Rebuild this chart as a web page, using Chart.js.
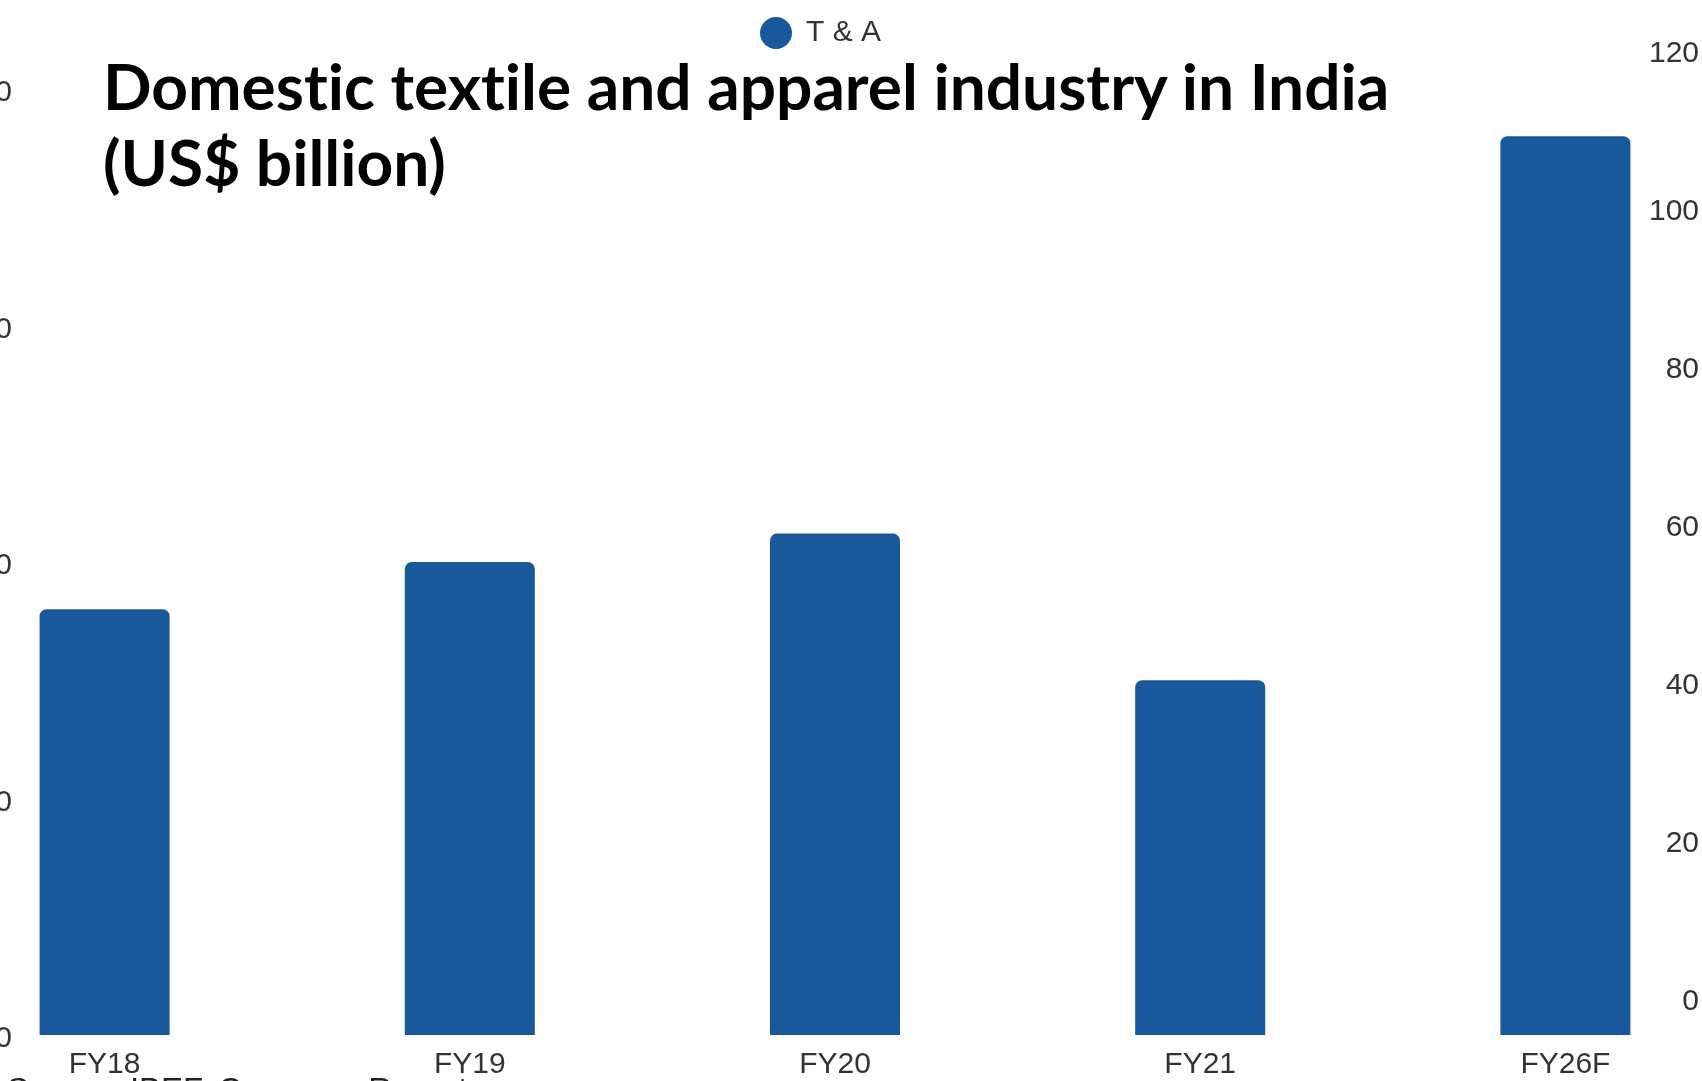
<!DOCTYPE html>
<html>
<head>
<meta charset="utf-8">
<script src="https://cdn.jsdelivr.net/npm/chart.js"></script>
<style>
html, body { margin: 0; padding: 0; background: #fff; overflow: hidden; width: 1702px; height: 1081px; position: relative; }
#wrap { position: absolute; left: -200px; top: 0; width: 2100px; height: 1081px; }
#title { position: absolute; left: 103px; top: 48px; font-family: Lato, sans-serif; font-weight: bold; font-size: 64px; line-height: 76px; color: #000; font-variant-ligatures: none; }
#source { position: absolute; left: 7px; top: 1073px; font-family: "Liberation Sans", Arial, sans-serif; font-size: 33px; line-height: 33px; color: #222; white-space: nowrap; }
</style>
</head>
<body>
<div id="wrap"><canvas id="myChart"></canvas></div>
<div id="title">Domestic textile and apparel industry in India<br>(US$ billion)</div>
<div id="source">Source: IBEF, Company Reports</div>
<script>
const categories = ["FY18", "FY19", "FY20", "FY21", "FY26F"];
const values = [90, 100, 106, 75, 190];
const leftTicks = [0, 50, 100, 150, 200];
const rightTicks = [0, 20, 40, 60, 80, 100, 120];
const seriesName = "T & A";
const barColor = "#19599b";

const tickFont = { family: "'Liberation Sans', Arial, sans-serif", size: 30 };

// legend takes little room in the layout, then gets a box big enough to draw in
const legendHeight = {
    id: "legendHeight",
    beforeInit(chart) {
        const fit = chart.legend.fit;
        chart.legend.fit = function () {
            fit.call(this);
            this.height = 40;
        };
    },
    afterLayout(chart) {
        const lg = chart.legend;
        lg.top = 8;
        lg.bottom = 72;
        lg.height = lg.bottom - lg.top;
        lg.left -= 14;
        lg.right -= 14;
    }
};

// side axes sit on top of the bars and take no room
function flatAxis(axis) {
    axis.width = 0;
    axis.paddingTop = 0;
    axis.paddingBottom = 0;
}

new Chart("myChart", {
    type: "bar",
    data: {
        labels: categories,
        datasets: [{
            label: seriesName,
            data: values,
            backgroundColor: barColor,
            borderRadius: 7,
            categoryPercentage: 0.356,
            barPercentage: 1,
            yAxisID: "y"
        }]
    },
    plugins: [legendHeight],
    options: {
        responsive: true,
        maintainAspectRatio: false,
        devicePixelRatio: 1,
        animation: false,
        layout: { autoPadding: false, padding: { left: 122, right: 152, top: 0, bottom: 0 } },
        plugins: {
            tooltip: { enabled: false },
            legend: {
                position: "top",
                labels: {
                    usePointStyle: true,
                    pointStyle: "circle",
                    boxWidth: 30,
                    boxHeight: 22.6,
                    padding: 10,
                    color: "#333",
                    font: { family: "'Liberation Sans', Arial, sans-serif", size: 30 }
                }
            }
        },
        scales: {
            x: {
                grid: { display: false, drawTicks: false },
                border: { display: false },
                ticks: { color: "#333", font: tickFont, padding: 12 },
                afterFit: (axis) => { axis.height = 46; }
            },
            y: {
                position: "left",
                min: 0,
                max: 210.35,
                grid: { display: false, drawTicks: false },
                border: { display: false },
                ticks: { mirror: true, crossAlign: "far", padding: 40, labelOffset: 4, color: "#333", font: tickFont },
                afterBuildTicks: (axis) => { axis.ticks = leftTicks.map(v => ({ value: v })); },
                afterFit: flatAxis
            },
            y1: {
                position: "right",
                min: -4.56,
                max: 121.39,
                grid: { display: false, drawTicks: false },
                border: { display: false },
                ticks: { mirror: true, padding: -49, labelOffset: 3, color: "#333", font: tickFont },
                afterBuildTicks: (axis) => { axis.ticks = rightTicks.map(v => ({ value: v })); },
                afterFit: flatAxis
            }
        }
    }
});
</script>
</body>
</html>
